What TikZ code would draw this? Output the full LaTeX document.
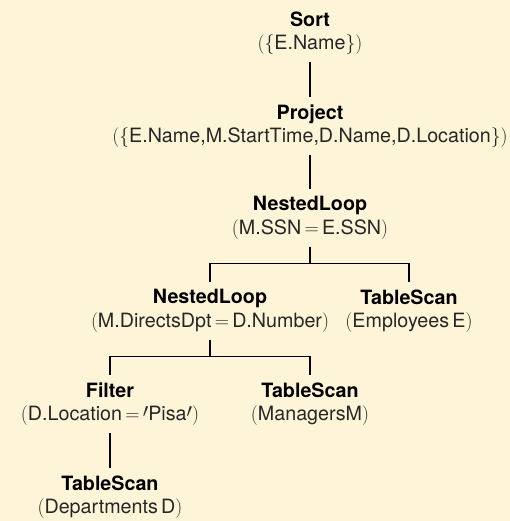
\documentclass[tikz,border=0pt]{standalone}
\usepackage{fix-cm}
\usepackage{fontspec}
\setmainfont{TeX Gyre Heros}
\usetikzlibrary{positioning}
\definecolor{planbg}{HTML}{FEF5D8}
\definecolor{argtext}{HTML}{262626}
\newcommand{\planop}[2]{\textbf{#1}\\{\color{argtext}#2}}
\newcommand{\quotemark}{\raisebox{0.3ex}{$\prime$}}

\begin{document}
\begin{tikzpicture}[x=1pt,y=-1pt,
    opnode/.style={align=center,inner xsep=4pt,inner ysep=7pt,font=\fontsize{19.7}{23.5}\selectfont},
    link/.style={line width=1.3pt}]
  \fill[planbg] (0,0) rectangle (510,521);
  \useasboundingbox (0,0) rectangle (510,521);

  \node[opnode] (sort) at (310,33) {\planop{Sort}{$(\{$E.Name$\})$}};
  \node[opnode] (project) at (310,126) {\planop{Project}{$(\{$E.Name,M.StartTime,D.Name,D.Location$\})$}};
  \node[opnode] (loopa) at (310,218) {\planop{NestedLoop}{$($M.SSN$\,=\,$E.SSN$)$}};
  \node[opnode] (loopb) at (210,311) {\planop{NestedLoop}{$($M.DirectsDpt$\,=\,$D.Number$)$}};
  \node[opnode] (scane) at (409,311) {\planop{TableScan}{$($Employees\,E$)$}};
  \node[opnode] (filter) at (110,404) {\planop{Filter}{$($D.Location$\,=\,$\quotemark Pisa\quotemark$)$}};
  \node[opnode] (scanm) at (310,404) {\planop{TableScan}{$($ManagersM$)$}};
  \node[opnode] (scand) at (110,497) {\planop{TableScan}{$($Departments\,D$)$}};

  \draw[link] (sort) -- (project);
  \draw[link] (project) -- (loopa);
  \draw[link] (loopa.south) -- ++(0,17) -| (loopb.north);
  \draw[link] (loopa.south) -- ++(0,17) -| (scane.north);
  \draw[link] (loopb.south) -- ++(0,17) -| (filter.north);
  \draw[link] (loopb.south) -- ++(0,17) -| (scanm.north);
  \draw[link] (filter) -- (scand);
\end{tikzpicture}
\end{document}
